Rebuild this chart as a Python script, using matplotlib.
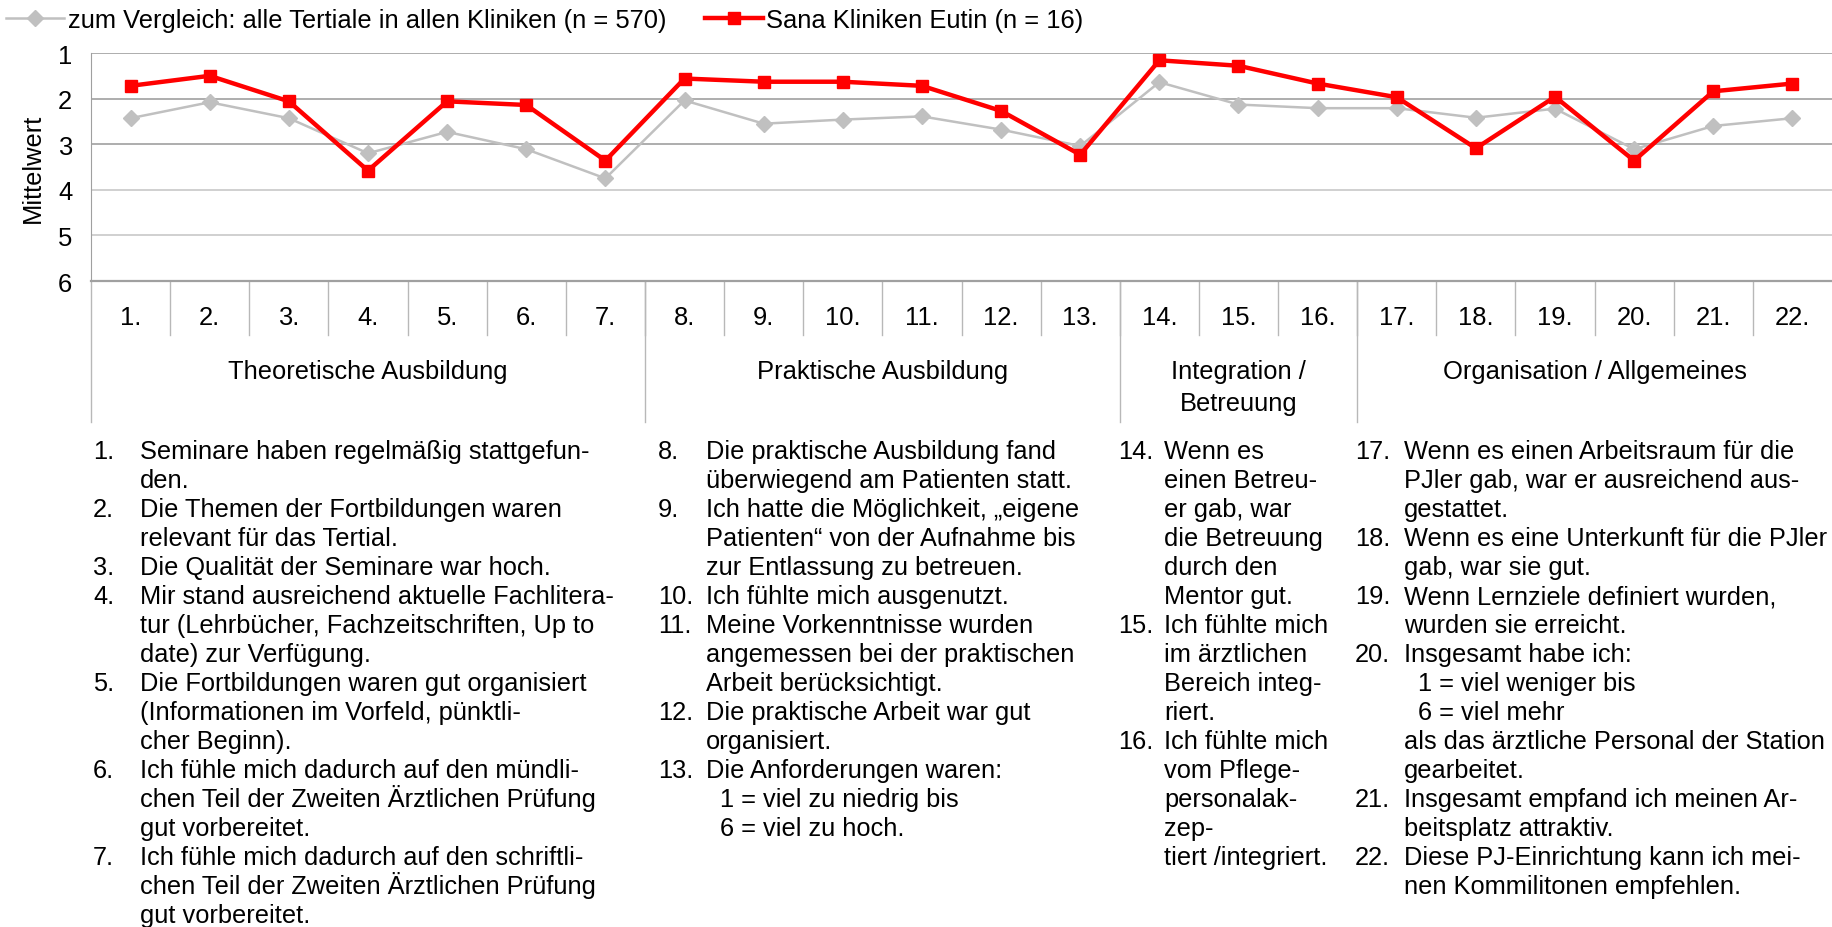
import matplotlib
matplotlib.use("Agg")
import matplotlib.pyplot as plt
from matplotlib import font_manager
from matplotlib.transforms import blended_transform_factory

# --- data ---
items = [f"{i}." for i in range(1, 23)]
alle_kliniken = [2.43, 2.08, 2.43, 3.20, 2.73, 3.11, 3.75, 2.04, 2.55, 2.46, 2.39,
                 2.68, 3.04, 1.64, 2.13, 2.21, 2.21, 2.42, 2.22, 3.11, 2.60, 2.43]
eutin = [1.72, 1.50, 2.06, 3.58, 2.06, 2.14, 3.36, 1.56, 1.63, 1.63, 1.72,
         2.27, 3.23, 1.16, 1.28, 1.67, 1.97, 3.09, 1.96, 3.36, 1.84, 1.67]
label_alle = "zum Vergleich: alle Tertiale in allen Kliniken (n = 570)"
label_eutin = "Sana Kliniken Eutin (n = 16)"
groups = ["Theoretische Ausbildung", "Praktische Ausbildung",
          "Integration /\nBetreuung", "Organisation / Allgemeines"]
group_sizes = [7, 6, 3, 6]

col1 = [
    ("1.", ["Seminare haben regelmäßig stattgefun-", "den."]),
    ("2.", ["Die Themen der Fortbildungen waren", "relevant für das Tertial."]),
    ("3.", ["Die Qualität der Seminare war hoch."]),
    ("4.", ["Mir stand ausreichend aktuelle Fachlitera-",
            "tur (Lehrbücher, Fachzeitschriften, Up to", "date) zur Verfügung."]),
    ("5.", ["Die Fortbildungen waren gut organisiert",
            "(Informationen im Vorfeld, pünktli-", "cher Beginn)."]),
    ("6.", ["Ich fühle mich dadurch auf den mündli-",
            "chen Teil der Zweiten Ärztlichen Prüfung", "gut vorbereitet."]),
    ("7.", ["Ich fühle mich dadurch auf den schriftli-",
            "chen Teil der Zweiten Ärztlichen Prüfung", "gut vorbereitet."]),
]
col2 = [
    ("8.", ["Die praktische Ausbildung fand", "überwiegend am Patienten statt."]),
    ("9.", ["Ich hatte die Möglichkeit, „eigene", "Patienten“ von der Aufnahme bis",
            "zur Entlassung zu betreuen."]),
    ("10.", ["Ich fühlte mich ausgenutzt."]),
    ("11.", ["Meine Vorkenntnisse wurden", "angemessen bei der praktischen",
             "Arbeit berücksichtigt."]),
    ("12.", ["Die praktische Arbeit war gut", "organisiert."]),
    ("13.", ["Die Anforderungen waren:", "  1 = viel zu niedrig bis", "  6 = viel zu hoch."]),
]
col3 = [
    ("14.", ["Wenn es", "einen Betreu-", "er gab, war", "die Betreuung",
             "durch den", "Mentor gut."]),
    ("15.", ["Ich fühlte mich", "im ärztlichen", "Bereich integ-", "riert."]),
    ("16.", ["Ich fühlte mich", "vom Pflege-", "personalak-", "zep-",
             "tiert /integriert."]),
]
col4 = [
    ("17.", ["Wenn es einen Arbeitsraum für die", "PJler gab, war er ausreichend aus-",
             "gestattet."]),
    ("18.", ["Wenn es eine Unterkunft für die PJler", "gab, war sie gut."]),
    ("19.", ["Wenn Lernziele definiert wurden,", "wurden sie erreicht."]),
    ("20.", ["Insgesamt habe ich:", "  1 = viel weniger bis", "  6 = viel mehr",
             "als das ärztliche Personal der Station", "gearbeitet."]),
    ("21.", ["Insgesamt empfand ich meinen Ar-", "beitsplatz attraktiv."]),
    ("22.", ["Diese PJ-Einrichtung kann ich mei-", "nen Kommilitonen empfehlen."]),
]

# --- fonts ---
avail = {f.name for f in font_manager.fontManager.ttflist}
if "Liberation Sans Narrow" in avail:
    chart_font, chart_size = "Liberation Sans Narrow", 22.6
else:
    chart_font, chart_size = "Liberation Sans", 18.4
body_font, body_size = "Liberation Sans", 18.3
plt.rcParams['font.family'] = [chart_font, 'DejaVu Sans']

W, H = 1832, 928
fig = plt.figure(figsize=(W / 100, H / 100), dpi=100)


def fx(px):
    return px / W


def fy(py):
    return 1 - py / H


ax = fig.add_axes([fx(91), fy(282), fx(W - 91), fy(54) - fy(282)])
x = list(range(len(items)))

ax.plot(x, alle_kliniken, color='#c0c0c0', lw=1.8, marker='D', markersize=8,
        label=label_alle, zorder=3)
ax.plot(x, eutin, color='#ff0000', lw=3.2, marker='s', markersize=9,
        label=label_eutin, zorder=4)

ax.set_xlim(-0.5, len(items) - 0.5)
ax.set_ylim(6, 1)
ax.set_yticks([1, 2, 3, 4, 5, 6])
for v in [1, 2, 3]:
    ax.axhline(v, color='#a0a0a0', lw=1.2, zorder=1)
for v in [4, 5]:
    ax.axhline(v, color='#c8c8c8', lw=1.2, zorder=1)
ax.set_xticks([])
ax.tick_params(axis='y', length=0, pad=13.5, labelsize=chart_size)
for s in ['top', 'right']:
    ax.spines[s].set_visible(False)
ax.spines['left'].set_color('#a0a0a0')
ax.spines['bottom'].set_color('#a0a0a0')
ax.spines['bottom'].set_linewidth(1.6)
ax.set_ylabel("Mittelwert", fontsize=chart_size)
ax.yaxis.set_label_coords((45 - 91) / (W - 91), 0.5)

# category table below the axis
blend = blended_transform_factory(ax.transData, fig.transFigure)
sep_color = '#b8b8b8'
for i in range(len(items)):
    ax.text(i, fy(318), items[i], transform=blend, ha='center', va='center',
            fontsize=chart_size)
    if i > 0:
        ax.plot([i - 0.5, i - 0.5], [fy(282), fy(336)], transform=blend,
                color=sep_color, lw=1, clip_on=False)
start = 0
ax.plot([-0.5, -0.5], [fy(282), fy(423)], transform=blend, color=sep_color, lw=1, clip_on=False)
for g, n in zip(groups, group_sizes):
    center = start + (n - 1) / 2
    ax.text(center, fy(360), g, transform=blend, ha='center', va='top',
            fontsize=chart_size, linespacing=1.4)
    end = start + n
    if end < len(items):
        ax.plot([end - 0.5, end - 0.5], [fy(282), fy(423)], transform=blend,
                color=sep_color, lw=1, clip_on=False)
    start = end

# legend
fs_px = chart_size * 100 / 72
leg = fig.legend(loc='center left', bbox_to_anchor=(fx(6), fy(21)), ncol=2,
                 frameon=False, fontsize=chart_size, borderpad=0, borderaxespad=0,
                 handlelength=58 / fs_px, handletextpad=4 / fs_px,
                 columnspacing=38 / fs_px, numpoints=1)

# explanatory text columns
columns = [(col1, 93, 140), (col2, 658, 706), (col3, 1118, 1164), (col4, 1355, 1404)]
line_h = 29.0
for col, x_num, x_txt in columns:
    y = 459
    for num, lines in col:
        fig.text(fx(x_num), fy(y), num, ha='left', va='baseline',
                 family=body_font, fontsize=body_size)
        for line in lines:
            indent = 14 if line.startswith("  ") else 0
            fig.text(fx(x_txt + indent), fy(y), line.strip(), ha='left', va='baseline',
                     family=body_font, fontsize=body_size)
            y += line_h

fig.savefig("out.png", dpi=100)
